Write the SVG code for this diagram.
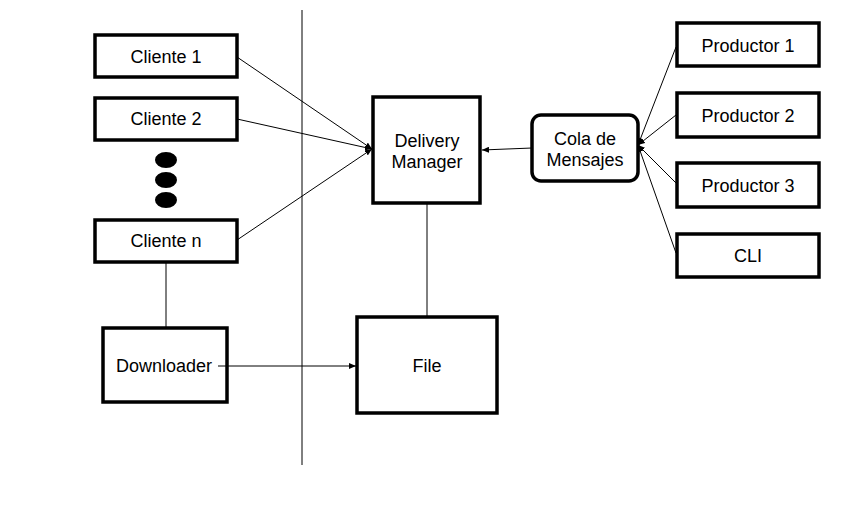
<svg xmlns="http://www.w3.org/2000/svg" width="861" height="506" viewBox="0 0 861 506">
<style>
.box{fill:#fff;stroke:#000;stroke-width:3.5}
.t{font-family:"Liberation Sans",Arial,sans-serif;font-size:18px;fill:#000;text-anchor:middle}
.ln{stroke:#000;stroke-width:1;fill:none}
</style>
<defs>
<marker id="ah" markerWidth="8" markerHeight="6" refX="7" refY="3" orient="auto" markerUnits="userSpaceOnUse">
<path d="M0,0 L7,3 L0,6 z" fill="#000"/>
</marker>
</defs>
<rect width="861" height="506" fill="#fff"/>
<line class="ln" x1="302" y1="10" x2="302" y2="465"/>
<g id="cliente1"><rect class="box" x="95" y="35" width="142" height="42"/><text class="t" x="166" y="63">Cliente 1</text></g>
<g id="cliente2"><rect class="box" x="95" y="98" width="142" height="42"/><text class="t" x="166" y="125">Cliente 2</text></g>
<g id="dots"><ellipse cx="166" cy="160" rx="11" ry="8"/><ellipse cx="166" cy="180" rx="11" ry="8"/><ellipse cx="166" cy="200" rx="11" ry="8"/></g>
<g id="clienten"><rect class="box" x="95" y="220" width="142" height="42"/><text class="t" x="166" y="247">Cliente n</text></g>
<g id="downloader"><rect class="box" x="103" y="328" width="124" height="74"/><text class="t" x="164" y="372">Downloader</text></g>
<g id="delivery"><rect class="box" x="373" y="97" width="107" height="106"/><text class="t" x="427" y="147">Delivery</text><text class="t" x="427" y="168">Manager</text></g>
<g id="file"><rect class="box" x="357" y="317" width="140" height="96"/><text class="t" x="427" y="372">File</text></g>
<g id="cola"><rect class="box" x="532" y="115" width="106" height="66" rx="9"/><text class="t" x="585" y="145">Cola de</text><text class="t" x="585" y="166">Mensajes</text></g>
<g id="productor1"><rect class="box" x="677" y="23" width="142" height="43"/><text class="t" x="748" y="52">Productor 1</text></g>
<g id="productor2"><rect class="box" x="677" y="93" width="142" height="44"/><text class="t" x="748" y="122">Productor 2</text></g>
<g id="productor3"><rect class="box" x="677" y="163" width="142" height="44"/><text class="t" x="748" y="192">Productor 3</text></g>
<g id="cli"><rect class="box" x="677" y="234" width="142" height="43"/><text class="t" x="748" y="262">CLI</text></g>
<g id="connectors">
<line class="ln" x1="237" y1="57" x2="372" y2="149" marker-end="url(#ah)"/>
<line class="ln" x1="237" y1="119" x2="372" y2="149" marker-end="url(#ah)"/>
<line class="ln" x1="237" y1="240" x2="372" y2="149" marker-end="url(#ah)"/>
<line class="ln" x1="532" y1="148" x2="482" y2="150" marker-end="url(#ah)"/>
<line class="ln" x1="676" y1="47" x2="638" y2="145" marker-end="url(#ah)"/>
<line class="ln" x1="676" y1="115" x2="638" y2="145" marker-end="url(#ah)"/>
<line class="ln" x1="676" y1="183" x2="638" y2="145" marker-end="url(#ah)"/>
<line class="ln" x1="676" y1="253" x2="638" y2="145" marker-end="url(#ah)"/>
<line class="ln" x1="166" y1="262" x2="166" y2="328"/>
<line class="ln" x1="427" y1="203" x2="427" y2="317"/>
<line class="ln" x1="218" y1="366" x2="356" y2="366" marker-end="url(#ah)"/>
</g>
</svg>
